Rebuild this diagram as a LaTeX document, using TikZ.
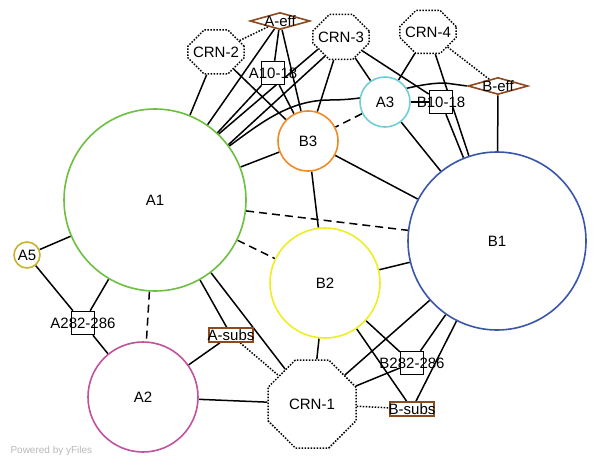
\documentclass[tikz,border=0pt]{standalone}
\usepackage{fontspec}
\setmainfont{Liberation Sans}
\usetikzlibrary{shapes.geometric,shapes.misc,backgrounds}
\definecolor{cAone}{HTML}{6CBF3F}
\definecolor{cAtwo}{HTML}{C0529E}
\definecolor{cAthree}{HTML}{6FCFD6}
\definecolor{cAfive}{HTML}{C8B22E}
\definecolor{cBone}{HTML}{3A56A8}
\definecolor{cBtwo}{HTML}{EEEE22}
\definecolor{cBthree}{HTML}{F08A24}
\definecolor{cBrown}{HTML}{8B4A1F}
\begin{document}
\begin{tikzpicture}[x=1pt,y=-1pt,
  font=\fontsize{15}{18}\selectfont,
  link/.style={line width=1.5pt},
  dashlink/.style={link,dash pattern=on 8pt off 5pt},
  dotlink/.style={link,dash pattern=on 1.5pt off 1.5pt},
  ball/.style={draw,circle,fill=white,inner sep=0pt,line width=1.6pt,minimum size=#1},
  crn/.style={draw,chamfered rectangle,fill=white,inner sep=0pt,line width=1.5pt,
    dash pattern=on 1.5pt off 1.5pt,minimum size=#1,
    chamfered rectangle xsep=0.25*#1,chamfered rectangle ysep=0.25*#1},
  site/.style={draw,rectangle,fill=white,inner sep=0pt,line width=1.5pt,minimum size=23pt},
  eff/.style={draw=cBrown,diamond,fill=white,inner sep=0pt,line width=1.6pt,
    minimum width=60pt,minimum height=17pt},
  subs/.style={draw=cBrown,rectangle,fill=white,inner sep=0pt,line width=1.6pt,
    minimum width=44pt,minimum height=14pt}]
  \useasboundingbox (0,0) rectangle (596,465);
  \node[ball=182pt,draw=cAone] (A1) at (155,200) {A1};
  \node[ball=110pt,draw=cAtwo] (A2) at (143,397) {A2};
  \node[ball=50pt,draw=cAthree] (A3) at (385,102) {A3};
  \node[ball=26pt,draw=cAfive] (A5) at (27,255) {A5};
  \node[ball=178pt,draw=cBone] (B1) at (497,241) {B1};
  \node[ball=110pt,draw=cBtwo] (B2) at (325,283) {B2};
  \node[ball=60pt,draw=cBthree] (B3) at (308,141) {B3};
  \node[crn=88pt] (CRN1) at (312,404) {CRN-1};
  \node[crn=44pt] (CRN2) at (216,52) {CRN-2};
  \node[crn=45pt] (CRN3) at (341,37) {CRN-3};
  \node[crn=43pt] (CRN4) at (428,32) {CRN-4};
  \node[eff,label=center:A-eff] (Aeff) at (280,21) {};
  \node[eff,label=center:B-eff] (Beff) at (498,86) {};
  \node[site,label=center:A10-18] (A10) at (273,73) {};
  \node[site,label=center:B10-18] (B10) at (441,102) {};
  \node[site,label=center:A282-286] (A282) at (83,323) {};
  \node[site,label=center:B282-286] (B282) at (412,363) {};
  \node[subs,label=center:A-subs] (Asubs) at (231,335) {};
  \node[subs,label=center:B-subs] (Bsubs) at (412,409) {};
  \node[anchor=west,text=black!28,font=\fontsize{10}{12}\selectfont] (credit) at (7,451) {Powered by yFiles};
  \begin{scope}[on background layer]
    % upper part
    \draw[dotlink] (CRN2) -- (Aeff);
    \draw[link] (CRN2) -- (A1);
    \draw[link] (CRN2) -- (B3);
    \draw[link] (Aeff) -- (A1);
    \draw[link] (Aeff) -- (A10);
    \draw[link] (Aeff) -- (B3);
    \draw[link] (A10) -- (A1);
    \draw[link] (A10) -- (B3);
    \draw[link] (CRN3.208) -- (A1.46);
    \draw[link] (CRN3.230) -- (A1.37);
    \draw[link] (CRN3) -- (B3);
    \draw[link] (CRN3) -- (A3);
    \draw[link] (CRN3) -- (B10);
    \draw[link] (CRN4) -- (A3);
    \draw[dotlink] (CRN4) -- (Beff);
    \draw[link] (CRN4) -- (B1);
    \draw[link] (B10) -- (B1);
    \draw[link] (Beff) -- (B1);
    \draw[link] (A3) -- (B10);
    \draw[link] (A3) -- (B1);
    \draw[dashlink] (A3) -- (B3);
    \draw[link] (A1.36) .. controls (262,122) and (290,100) .. (330,100)
      .. controls (380,100) and (410,83) .. (445,83) -- (Beff.west);
    \draw[link] (B3) -- (A1);
    \draw[link] (B3) -- (B1);
    \draw[link] (B3) -- (B2);
    \draw[dashlink] (A1) -- (B1);
    \draw[dashlink] (A1) -- (B2);
    % lower part
    \draw[link] (A1) -- (A5);
    \draw[link] (A5) -- (A282);
    \draw[link] (A1) -- (A282);
    \draw[link] (A282) -- (A2);
    \draw[dashlink] (A1) -- (A2);
    \draw[link] (A1) -- (Asubs);
    \draw[link] (A1) -- (CRN1);
    \draw[link] (Asubs) -- (A2);
    \draw[dotlink] (Asubs) -- (CRN1);
    \draw[link] (A2) -- (CRN1);
    \draw[link] (B2) -- (CRN1);
    \draw[link] (B2) -- (B1);
    \draw[link] (B2) -- (B282);
    \draw[link] (B2) -- (Bsubs);
    \draw[link] (B1) -- (CRN1);
    \draw[link] (B282) -- (CRN1);
    \draw[link] (B1) -- (B282);
    \draw[link] (B1) -- (Bsubs);
    \draw[dotlink] (CRN1) -- (Bsubs);
  \end{scope}
\end{tikzpicture}
\end{document}
